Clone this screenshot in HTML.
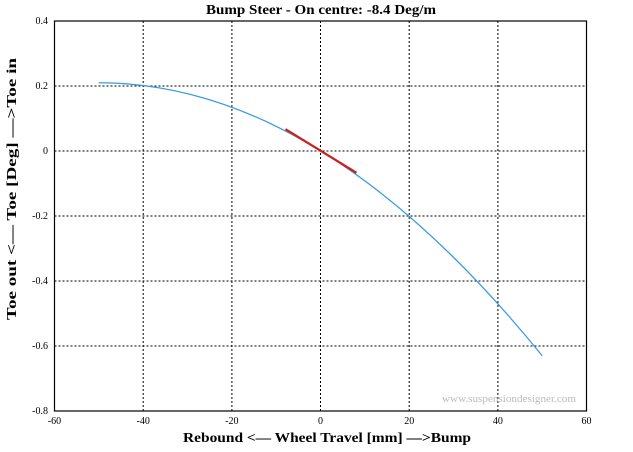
<!DOCTYPE html>
<html><head><style>
body{margin:0;background:#fff;}
svg{display:block;font-family:"Liberation Serif",serif;}
</style></head><body>
<svg width="633" height="452" xmlns="http://www.w3.org/2000/svg">
<rect width="633" height="452" fill="#fff"/>
<g stroke="#000" stroke-width="1" stroke-dasharray="2,2">
<line x1="143.2" y1="21" x2="143.2" y2="411"/>
<line x1="231.9" y1="21" x2="231.9" y2="411"/>
<line x1="320.5" y1="21" x2="320.5" y2="411"/>
<line x1="409.2" y1="21" x2="409.2" y2="411"/>
<line x1="497.9" y1="21" x2="497.9" y2="411"/>
<line x1="54.5" y1="86" x2="586.5" y2="86"/>
<line x1="54.5" y1="151" x2="586.5" y2="151"/>
<line x1="54.5" y1="216" x2="586.5" y2="216"/>
<line x1="54.5" y1="281" x2="586.5" y2="281"/>
<line x1="54.5" y1="346" x2="586.5" y2="346"/>
</g>
<rect x="54.5" y="21" width="532" height="390" fill="none" stroke="#000" stroke-width="1.2"/>
<path d="M98.8,82.75 Q321,82.75 542.2,355.75" fill="none" stroke="#3a9be0" stroke-width="1.3"/>
<line x1="285.5" y1="129.2" x2="356.5" y2="172.8" stroke="#cc1f1f" stroke-width="2.2"/>
<g font-size="10" text-anchor="middle" fill="#000">
<text x="54.5" y="424">-60</text><text x="143.2" y="424">-40</text><text x="231.9" y="424">-20</text>
<text x="320.5" y="424">0</text><text x="409.2" y="424">20</text><text x="497.9" y="424">40</text><text x="586.5" y="424">60</text>
</g>
<g font-size="10" text-anchor="end" fill="#000">
<text x="48" y="24">0.4</text><text x="48" y="89">0.2</text><text x="48" y="154">0</text>
<text x="48" y="219">-0.2</text><text x="48" y="284">-0.4</text><text x="48" y="349">-0.6</text><text x="48" y="414">-0.8</text>
</g>
<text x="206" y="14" font-size="14" font-weight="bold" textLength="230" lengthAdjust="spacingAndGlyphs">Bump Steer - On centre: -8.4 Deg/m</text>
<text x="183" y="442" font-size="14" font-weight="bold" textLength="288" lengthAdjust="spacingAndGlyphs">Rebound &lt;— Wheel Travel [mm] —&gt;Bump</text>
<text transform="translate(16,320) rotate(-90)" font-size="14" font-weight="bold" textLength="262" lengthAdjust="spacingAndGlyphs">Toe out &lt;— Toe [Deg] —&gt;Toe in</text>
<text x="442" y="402" font-size="10" fill="#bbb" textLength="134" lengthAdjust="spacingAndGlyphs">www.suspensiondesigner.com</text>
</svg>
</body></html>
